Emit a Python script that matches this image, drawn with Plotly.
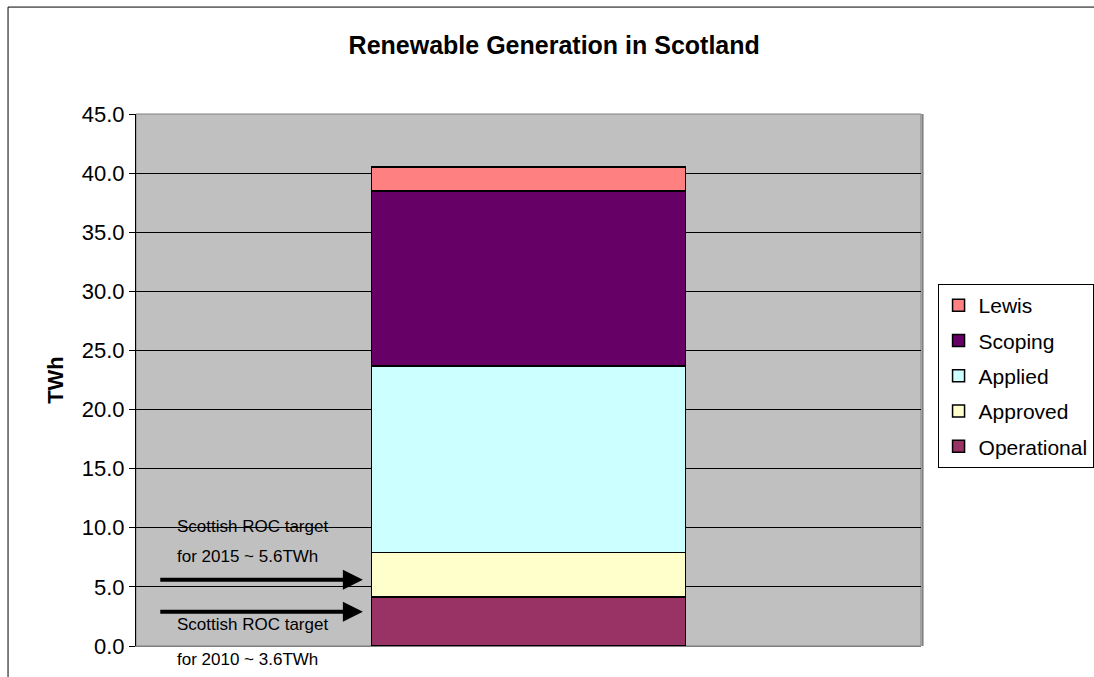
import plotly.graph_objects as go

category = ["Scotland"]
series_names = ["Operational", "Approved", "Applied", "Scoping", "Lewis"]
series_values = [[4.15], [3.75], [15.8], [14.77], [2.03]]
series_colors = ["#993366", "#FFFFCC", "#CCFFFF", "#660066", "#FF8080"]
y_ticks = [0, 5, 10, 15, 20, 25, 30, 35, 40, 45]
target_2015 = 5.6
target_2010 = 2.9

FONT = "Liberation Sans, Arial, sans-serif"

fig = go.Figure()
n = len(series_names)
for i, (name, vals, col) in enumerate(zip(series_names, series_values, series_colors)):
    fig.add_trace(go.Bar(
        x=category, y=vals, name=name, width=0.4, legendgroup=name,
        legendrank=n - i,
        marker=dict(color=col, line=dict(color="black", width=1.5)),
    ))

fig.update_layout(
    barmode="stack",
    width=1094, height=677,
    margin=dict(l=136, r=173, t=114, b=31),
    paper_bgcolor="white",
    plot_bgcolor="#C0C0C0",
    title=dict(text="<b>Renewable Generation in Scotland</b>", x=0.5066, xanchor="center",
               y=0.933, yanchor="middle", font=dict(family=FONT, size=25, color="black")),
    font=dict(family=FONT, color="black"),
    showlegend=True,
    legend=dict(traceorder="grouped", tracegroupgap=5,
                xref="container", yref="container",
                x=0.857, xanchor="left", y=0.4446, yanchor="middle",
                bordercolor="black", borderwidth=1, bgcolor="white",
                itemwidth=30,
                font=dict(family=FONT, size=21, color="black")),
)
fig.update_xaxes(showticklabels=False, showgrid=False, showline=True, linecolor="#808080",
                 linewidth=1, range=[-0.5, 0.5], ticks="")
fig.update_yaxes(range=[0, 45], tickvals=y_ticks, tickformat=".1f", showgrid=True,
                 gridcolor="black", gridwidth=1, showline=True, linecolor="black",
                 ticks="outside", ticklen=6, tickcolor="black", zeroline=False,
                 tickfont=dict(family=FONT, size=22, color="black"),
                 title=dict(text="<b>TWh</b>", font=dict(family=FONT, size=22, color="black"),
                            standoff=12))

# plot area border with shadow
fig.add_shape(type="rect", xref="paper", yref="paper", x0=0, y0=0, x1=1, y1=1,
              line=dict(color="#808080", width=1), layer="below")
fig.add_shape(type="line", xref="paper", yref="paper", x0=1.002, y0=0, x1=1.002, y1=1,
              line=dict(color="#808080", width=2))
# outer chart border
fig.add_shape(type="rect", xref="paper", yref="paper", x0=-0.163, y0=-0.3, x1=1.6, y1=1.201,
              line=dict(color="black", width=1))

# arrows
for yv in [target_2015, target_2010]:
    fig.add_annotation(x=0.289, y=yv, xref="x domain", yref="y", ax=0.029, ay=yv,
                       axref="x domain", ayref="y", showarrow=True, arrowhead=2,
                       arrowsize=1, arrowwidth=4, arrowcolor="black", text="")

texts = [("Scottish ROC target", 10.08), ("for 2015 ~ 5.6TWh", 7.54),
         ("Scottish ROC target", 1.78)]
for t, yv in texts:
    fig.add_annotation(x=0.05, y=yv, xref="paper", yref="y", text=t, showarrow=False,
                       xanchor="left", yanchor="middle",
                       font=dict(family=FONT, size=17, color="black"))
fig.add_annotation(x=0.05, y=-0.026, xref="paper", yref="paper", text="for 2010 ~ 3.6TWh",
                   showarrow=False, xanchor="left", yanchor="middle",
                   font=dict(family=FONT, size=17, color="black"))

fig.write_html("out.html")
